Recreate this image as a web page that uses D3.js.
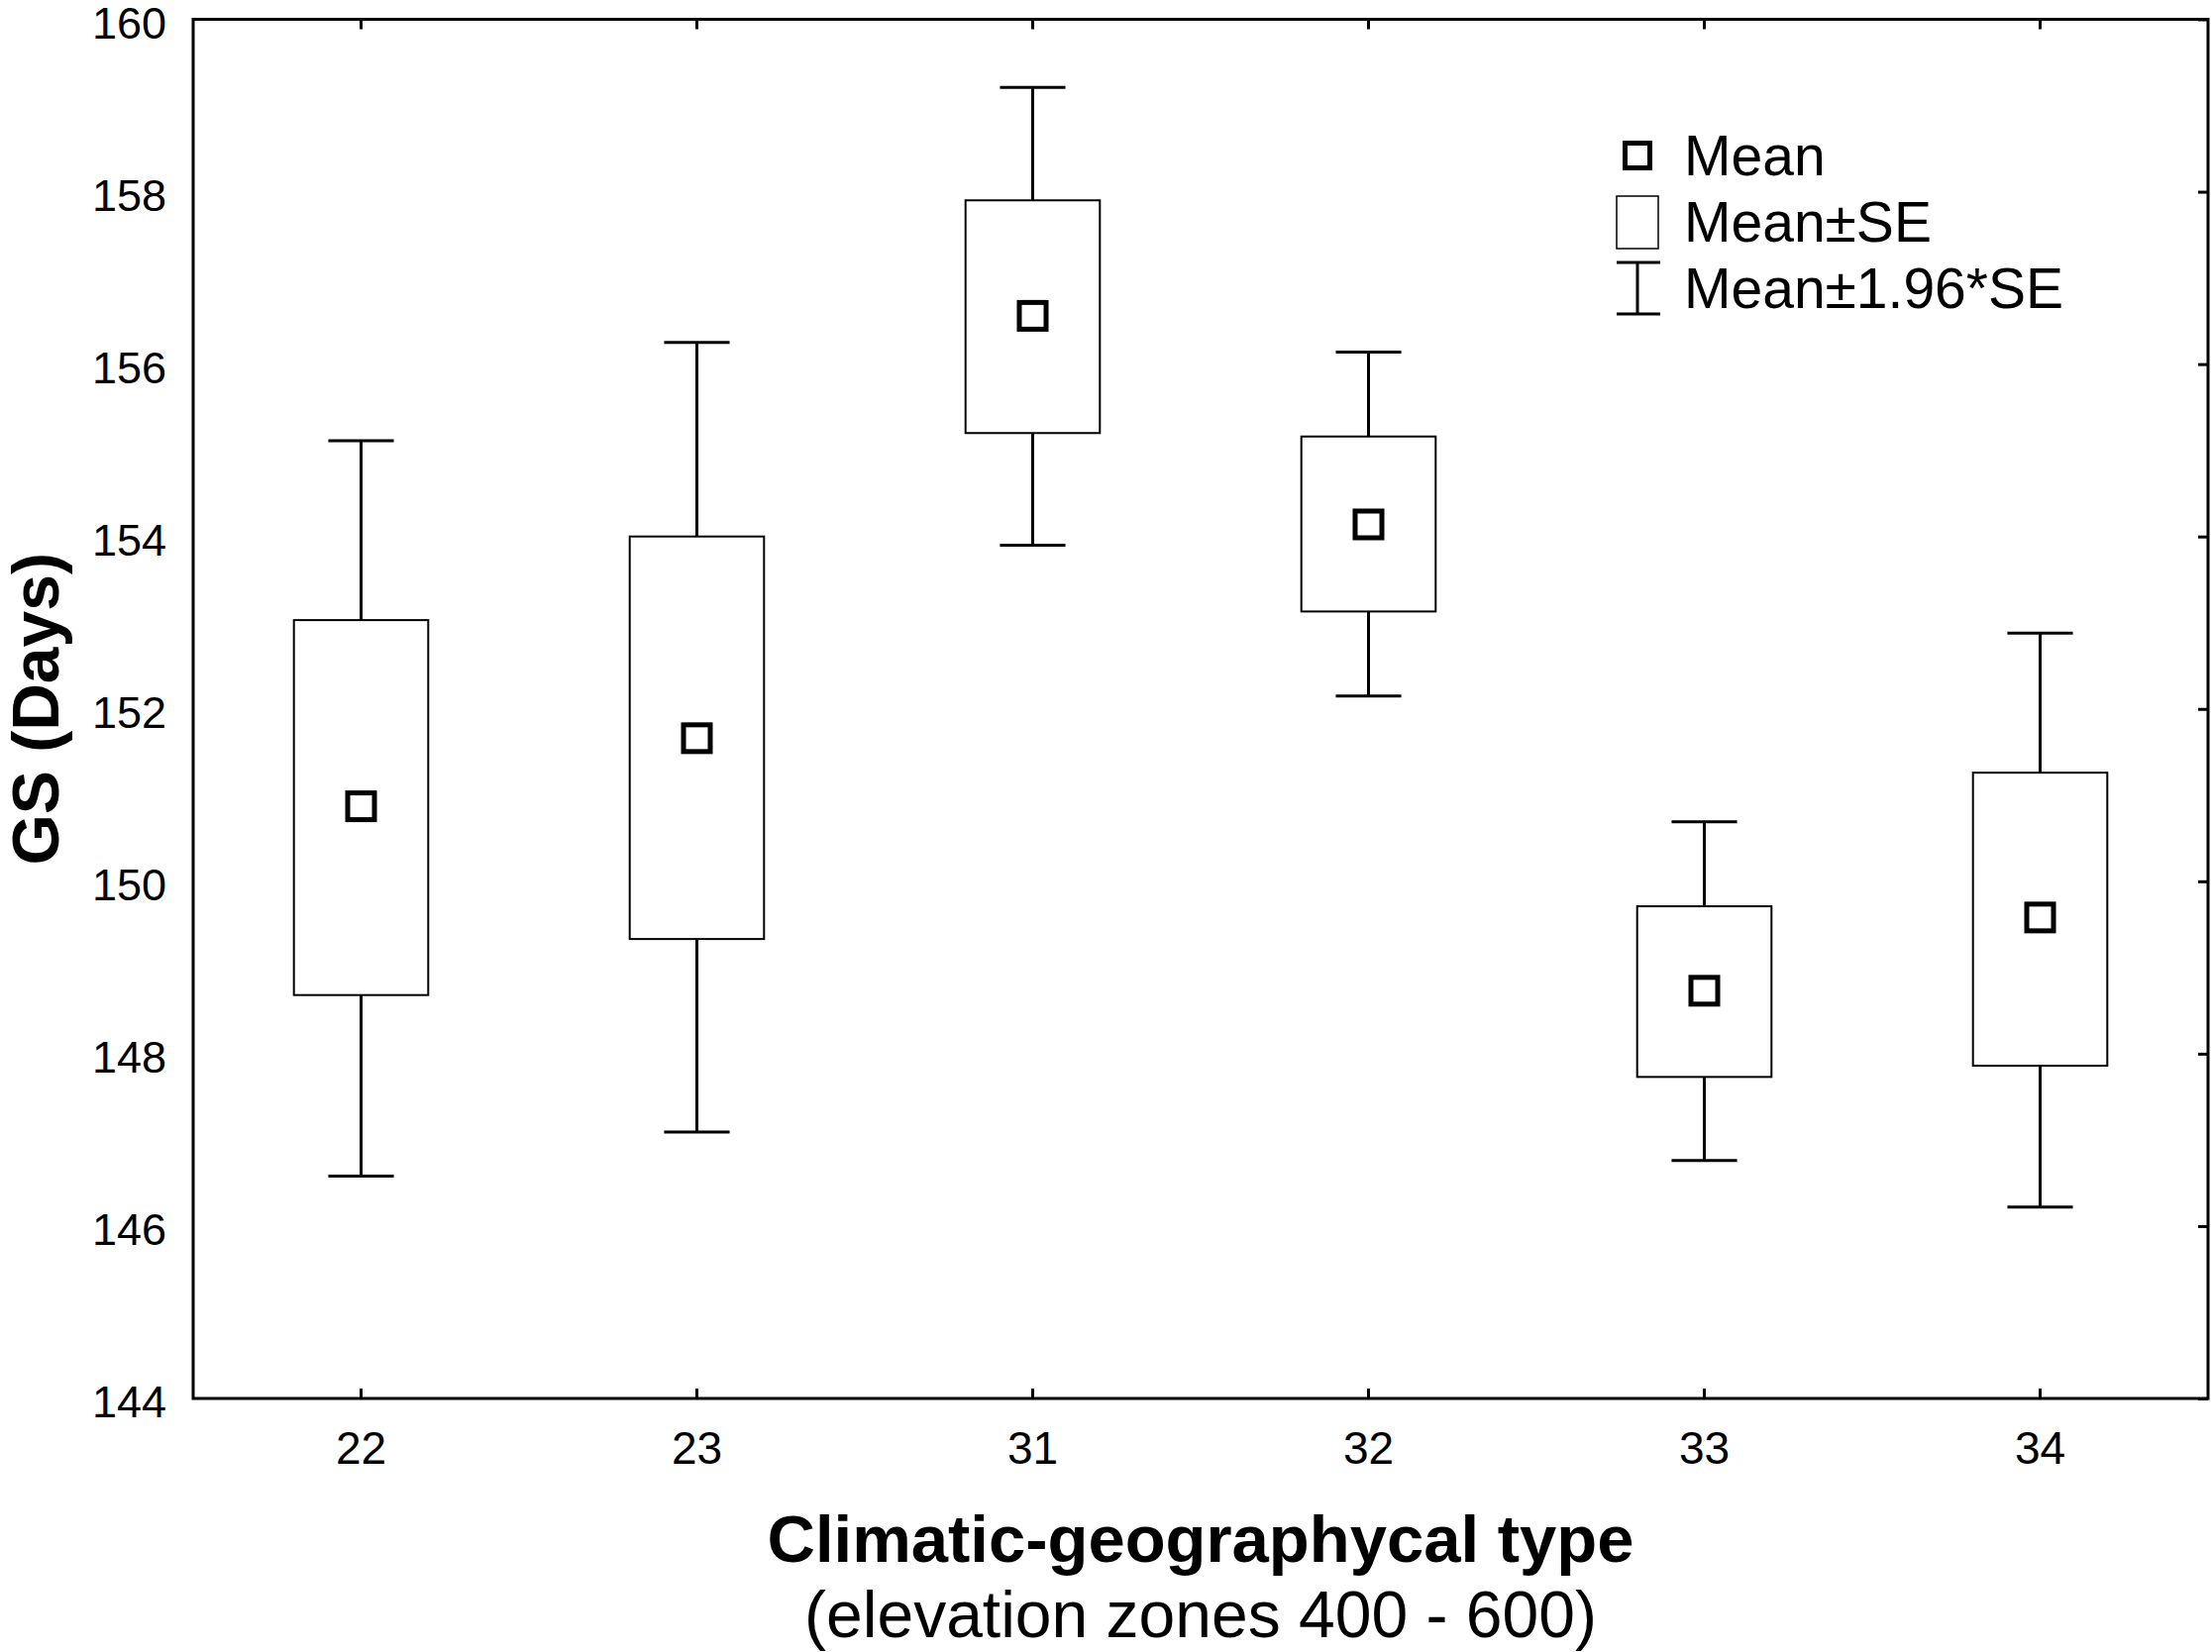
<!DOCTYPE html>
<html>
<head>
<meta charset="utf-8">
<script src="https://cdn.jsdelivr.net/npm/d3@7"></script>
<style>
  body { margin: 0; background: #fff; }
  svg { display: block; font-family: "Liberation Sans", Arial, sans-serif; }
</style>
</head>
<body>
<div id="chart"></div>
<script>
// Datos
const categories = ["22", "23", "31", "32", "33", "34"];
const means  = [150.87, 151.66, 156.56, 154.14, 148.73, 149.58];
const seLow  = [148.68, 149.33, 155.20, 153.13, 147.73, 147.86];
const seHigh = [153.03, 154.00, 157.90, 155.16, 149.71, 151.26];
const ciLow  = [146.58, 147.09, 153.90, 152.15, 146.76, 146.22];
const ciHigh = [155.11, 156.25, 159.21, 156.14, 150.69, 152.88];
const yTicks = [144, 146, 148, 150, 152, 154, 156, 158, 160];
const legendLabels = ["Mean", "Mean±SE", "Mean±1.96*SE"];

const W = 2233, H = 1668;
const plot = { left: 195, right: 2229, top: 19.5, bottom: 1412 };

const svg = d3.select("#chart").append("svg")
  .attr("width", W).attr("height", H);

const x = d3.scaleBand().domain(categories).range([plot.left, plot.right]).padding(0);
const y = d3.scaleLinear().domain([144, 160]).range([plot.bottom, plot.top]);

const rows = categories.map((c, i) => ({
  cat: c, mean: means[i], seLow: seLow[i], seHigh: seHigh[i], ciLow: ciLow[i], ciHigh: ciHigh[i]
}));

const boxW = x.bandwidth() * 0.40;
const capW = x.bandwidth() * 0.195;
const cx = d => x(d.cat) + x.bandwidth() / 2;

// Ejes: etiquetas a la izquierda y abajo, marcas hacia dentro arriba/abajo/derecha
const leftAxis = svg.append("g").attr("transform", `translate(${plot.left},0)`)
  .call(d3.axisLeft(y).tickValues(yTicks).tickSize(0).tickPadding(27));
leftAxis.select(".domain").remove();
leftAxis.selectAll("text").style("font-size", "45px").attr("fill", "#000").attr("dy", "0.42em");

const bottomAxis = svg.append("g").attr("transform", `translate(0,${plot.bottom})`)
  .call(d3.axisBottom(x).tickSize(0).tickPadding(33));
bottomAxis.select(".domain").remove();
bottomAxis.selectAll("text").style("font-size", "46px").attr("fill", "#000");

const topTicks = svg.append("g").attr("transform", `translate(0,${plot.top})`)
  .call(d3.axisBottom(x).tickSize(10).tickFormat(""));
topTicks.select(".domain").remove();
topTicks.selectAll("line").attr("stroke", "#000").attr("stroke-width", 3);

const botTicks = svg.append("g").attr("transform", `translate(0,${plot.bottom})`)
  .call(d3.axisTop(x).tickSize(10).tickFormat(""));
botTicks.select(".domain").remove();
botTicks.selectAll("line").attr("stroke", "#000").attr("stroke-width", 3);

const rightTicks = svg.append("g").attr("transform", `translate(${plot.right},0)`)
  .call(d3.axisLeft(y).tickValues(yTicks).tickSize(10).tickFormat(""));
rightTicks.select(".domain").remove();
rightTicks.selectAll("line").attr("stroke", "#000").attr("stroke-width", 3);

// Marco del grafico
svg.append("rect")
  .attr("x", plot.left).attr("y", plot.top)
  .attr("width", plot.right - plot.left).attr("height", plot.bottom - plot.top)
  .attr("fill", "none").attr("stroke", "#000").attr("stroke-width", 3);

// Bigotes, cajas y medias
const g = svg.append("g");
const groups = g.selectAll(".grp").data(rows).join("g").attr("class", "grp");

groups.append("line")
  .attr("x1", cx).attr("x2", cx)
  .attr("y1", d => y(d.ciHigh)).attr("y2", d => y(d.ciLow))
  .attr("stroke", "#000").attr("stroke-width", 3);

groups.selectAll(".cap").data(d => [d.ciHigh, d.ciLow].map(v => ({ v, d })))
  .join("line").attr("class", "cap")
  .attr("x1", o => cx(o.d) - capW / 2).attr("x2", o => cx(o.d) + capW / 2)
  .attr("y1", o => y(o.v)).attr("y2", o => y(o.v))
  .attr("stroke", "#000").attr("stroke-width", 3);

groups.append("rect")
  .attr("x", d => cx(d) - boxW / 2).attr("width", boxW)
  .attr("y", d => y(d.seHigh)).attr("height", d => y(d.seLow) - y(d.seHigh))
  .attr("fill", "#fff").attr("stroke", "#000").attr("stroke-width", 2);

const mk = 27;
groups.append("rect")
  .attr("x", d => cx(d) - mk / 2).attr("y", d => y(d.mean) - mk / 2)
  .attr("width", mk).attr("height", mk)
  .attr("fill", "#fff").attr("stroke", "#000").attr("stroke-width", 5);

// Leyenda
const legend = svg.append("g").attr("transform", "translate(1653,0)");
legend.append("rect").attr("x", -12.5).attr("y", 144.5).attr("width", 25).attr("height", 25)
  .attr("fill", "none").attr("stroke", "#000").attr("stroke-width", 5);
legend.append("rect").attr("x", -21).attr("y", 198).attr("width", 42).attr("height", 53)
  .attr("fill", "none").attr("stroke", "#000").attr("stroke-width", 1.5);
legend.append("line").attr("x1", -21).attr("x2", 23).attr("y1", 265).attr("y2", 265)
  .attr("stroke", "#000").attr("stroke-width", 3);
legend.append("line").attr("x1", -21).attr("x2", 23).attr("y1", 317).attr("y2", 317)
  .attr("stroke", "#000").attr("stroke-width", 3);
legend.append("line").attr("x1", 0).attr("x2", 0).attr("y1", 265).attr("y2", 317)
  .attr("stroke", "#000").attr("stroke-width", 3);
legend.selectAll(".lt").data(legendLabels).join("text").attr("class", "lt")
  .attr("x", 47).attr("y", (d, i) => [177, 244, 311][i])
  .style("font-size", "57px").attr("fill", "#000").text(d => d);

// Titulos de ejes
svg.append("text")
  .attr("transform", `translate(59,${(plot.top + plot.bottom) / 2}) rotate(-90)`)
  .attr("text-anchor", "middle")
  .style("font-size", "66px").style("font-weight", "bold")
  .text("GS (Days)");

svg.append("text")
  .attr("x", (plot.left + plot.right) / 2).attr("y", 1577)
  .attr("text-anchor", "middle")
  .style("font-size", "67px").style("font-weight", "bold")
  .text("Climatic-geographycal type");

svg.append("text")
  .attr("x", (plot.left + plot.right) / 2).attr("y", 1653)
  .attr("text-anchor", "middle")
  .style("font-size", "66px")
  .text("(elevation zones 400 - 600)");
</script>
</body>
</html>
